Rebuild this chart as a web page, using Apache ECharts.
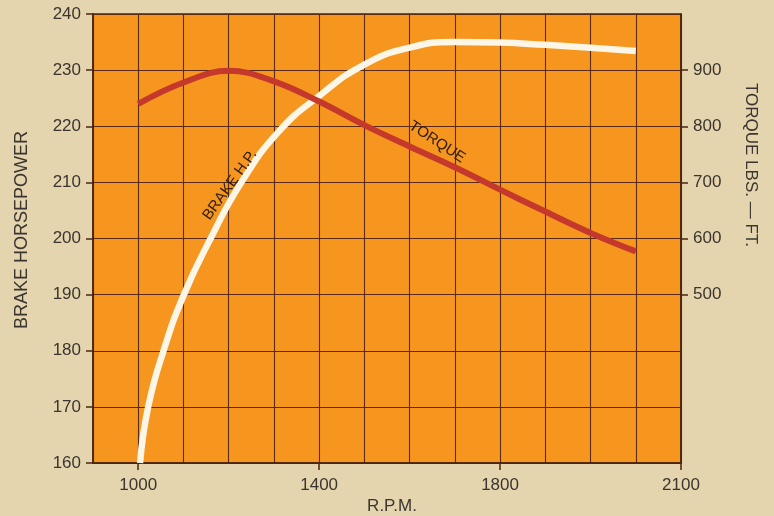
<!DOCTYPE html>
<html>
<head>
<meta charset="utf-8">
<script src="https://cdn.jsdelivr.net/npm/echarts@6/dist/echarts.min.js"></script>
<style>
html,body{margin:0;padding:0;background:#e4d5ae;}
#c{width:774px;height:516px;}
</style>
</head>
<body>
<div id="c"></div>
<script>
// Brake horsepower curve (left axis)
const hpRpm = [1004, 1022, 1056, 1101, 1160, 1228, 1310, 1400, 1500, 1600, 1700, 1800, 1900, 2000, 2100];
const hpValues = [160, 170, 180, 190, 200, 210, 219, 225.4, 231, 234, 235, 234.9, 234.5, 234.0, 233.4];
// Torque curve (right axis)
const torqueRpm = [1000, 1100, 1200, 1300, 1400, 1500, 1600, 1700, 1800, 1900, 2000, 2100];
const torqueValues = [840, 878, 899, 880, 844, 802, 764, 727, 687, 648, 610, 577];
// Tick labels
const xTickValues = [1000, 1400, 1800, 2200];
const xTickLabels = ['1000', '1400', '1800', '2100'];
const torqueTickValues = [500, 600, 700, 800, 900];

const textColor = '#3a3530';
const gridColor = '#5a2a12';
const font = "'Liberation Sans', Arial, Helvetica, sans-serif";

const chart = echarts.init(document.getElementById('c'));
chart.setOption({
  backgroundColor: '#e4d5ae',
  animation: false,
  grid: {
    left: 93, right: 93, top: 14, bottom: 53,
    show: true, backgroundColor: '#f6961f', borderColor: '#4a2410', borderWidth: 1.5
  },
  xAxis: [
    {
      type: 'value', min: 900, max: 2200, interval: 100, position: 'bottom',
      axisLine: { show: true, lineStyle: { color: '#4a2410', width: 1.5 } },
      axisTick: { show: false },
      axisLabel: { show: false },
      splitLine: { show: true, lineStyle: { color: gridColor, width: 1.1 } }
    },
    {
      type: 'value', min: 900, max: 2200, interval: 100, position: 'bottom',
      axisLine: { show: false },
      axisTick: { show: true, customValues: xTickValues, length: 7, lineStyle: { color: '#4a2410', width: 1.5 } },
      axisLabel: {
        customValues: xTickValues, margin: 14, fontSize: 17, color: textColor, fontFamily: font,
        formatter: v => xTickLabels[xTickValues.indexOf(v)]
      },
      splitLine: { show: false }
    }
  ],
  yAxis: [
    {
      type: 'value', position: 'left', min: 160, max: 240, interval: 10,
      axisLine: { show: true, lineStyle: { color: '#4a2410', width: 1.5 } },
      axisTick: { show: true, length: 7, lineStyle: { color: '#4a2410', width: 1.5 } },
      axisLabel: { margin: 12, fontSize: 17, color: textColor, fontFamily: font },
      splitLine: { show: true, lineStyle: { color: gridColor, width: 1.1 } }
    },
    {
      type: 'value', position: 'right', min: 200, max: 1000, interval: 100,
      axisLine: { show: true, lineStyle: { color: '#4a2410', width: 1.5 } },
      axisTick: { show: true, customValues: torqueTickValues, length: 7, lineStyle: { color: '#4a2410', width: 1.5 } },
      axisLabel: { customValues: torqueTickValues, margin: 12, fontSize: 17, color: textColor, fontFamily: font },
      splitLine: { show: false }
    }
  ],
  series: [
    {
      name: 'BRAKE H.P.', type: 'line', xAxisIndex: 0, yAxisIndex: 0,
      data: hpRpm.map((r, i) => [r, hpValues[i]]),
      smooth: 0.5, showSymbol: false, symbol: 'none',
      lineStyle: { color: '#fbf6e6', width: 6.5 }, z: 3
    },
    {
      name: 'TORQUE', type: 'line', xAxisIndex: 0, yAxisIndex: 1,
      data: torqueRpm.map((r, i) => [r, torqueValues[i]]),
      smooth: 0.4, showSymbol: false, symbol: 'none',
      lineStyle: { color: '#c4392b', width: 6 }, z: 4
    }
  ],
  graphic: [
    { type: 'text', x: 22, y: 230, rotation: Math.PI / 2,
      style: { text: 'BRAKE HORSEPOWER', fill: textColor, font: "18px " + font, align: 'center', verticalAlign: 'middle' } },
    { type: 'text', x: 751, y: 165, rotation: -Math.PI / 2,
      style: { text: 'TORQUE LBS. — FT.', fill: textColor, font: "17px " + font, align: 'center', verticalAlign: 'middle' } },
    { type: 'text', x: 392, y: 506,
      style: { text: 'R.P.M.', fill: textColor, font: "17px " + font, align: 'center', verticalAlign: 'middle' } },
    { type: 'text', x: 230, y: 185, rotation: 0.95, z: 10,
      style: { text: 'BRAKE H.P.', fill: '#2e1c10', font: "15px " + font, align: 'center', verticalAlign: 'middle' } },
    { type: 'text', x: 437, y: 142, rotation: -0.58, z: 10,
      style: { text: 'TORQUE', fill: '#2e1c10', font: "15px " + font, align: 'center', verticalAlign: 'middle' } }
  ]
});
</script>
</body>
</html>
